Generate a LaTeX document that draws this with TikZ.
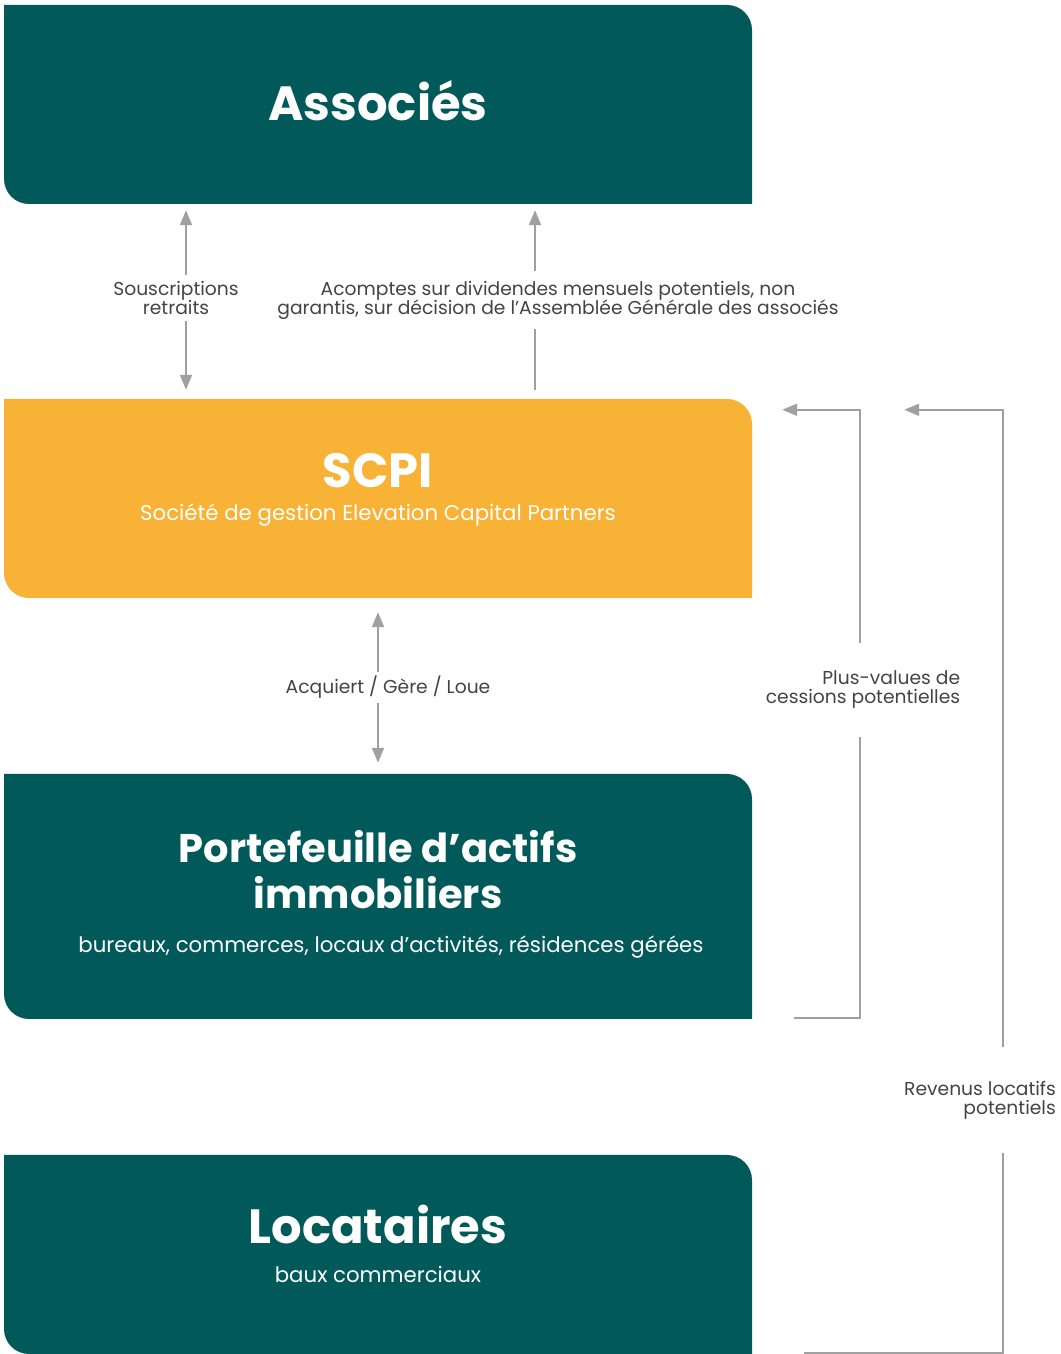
\documentclass[tikz,border=0pt]{standalone}
\usepackage{fontspec}
\setmainfont{Poppins}
\usetikzlibrary{arrows.meta}

\definecolor{pine}{HTML}{02595A}
\definecolor{amber}{HTML}{F8B236}
\definecolor{flowgray}{HTML}{A0A0A0}
\definecolor{labelgray}{HTML}{444444}

\newcommand\lblfont{\fontsize{18.7}{19}\selectfont\setlength{\lineskiplimit}{-20pt}}

\tikzset{
  panel/.style={minimum width=748pt, minimum height=199pt, inner sep=0pt, fill=white,
    path picture={\fill[#1] (path picture bounding box.north west)
      -- ([xshift=-25pt]path picture bounding box.north east)
      arc[start angle=90, end angle=0, radius=25pt]
      -- (path picture bounding box.south east)
      -- ([xshift=25pt]path picture bounding box.south west)
      arc[start angle=270, end angle=180, radius=25pt] -- cycle;}},
  ttl/.style={text=white, anchor=base, inner sep=0pt, font=\fontsize{48}{48}\selectfont\bfseries},
  sub/.style={text=white, anchor=base, inner sep=0pt, font=\fontsize{21.3}{24}\selectfont},
  flow/.style={draw=flowgray, line width=2pt, >={Triangle[length=15pt,width=12pt]}},
  lbl/.style={fill=white, text=labelgray, align=center, inner xsep=2pt, font=\lblfont}
}

\begin{document}
\begin{tikzpicture}[x=1pt, y=1pt]
    \useasboundingbox (0,0) rectangle (1060,1354);

    % Boxes
    \node[panel=pine] (assoc) at (378,1249.5) {};
    \node[ttl] (assoc-t) at ([yshift=-16.5pt]assoc.center) {Associés};

    \node[panel=amber] (scpi) at (378,855.5) {};
    \node[ttl] (scpi-t) at ([yshift=10.5pt]scpi.center) {SCPI};
    \node[sub] (scpi-s) at ([yshift=-22.5pt]scpi.center) {Société de gestion Elevation Capital Partners};

    \node[panel=pine, minimum height=245pt] (porte) at (378,457.5) {};
    \node[ttl, font=\fontsize{40}{40}\selectfont\bfseries] (porte-t1) at ([yshift=33.5pt]porte.center) {Portefeuille d’actifs};
    \node[ttl, font=\fontsize{40}{40}\selectfont\bfseries] (porte-t2) at ([yshift=-12.5pt]porte.center) {immobiliers};
    \node[sub] (porte-s) at ([xshift=13pt,yshift=-56.5pt]porte.center) {bureaux, commerces, locaux d’activités, résidences gérées};

    \node[panel=pine] (loca) at (378,99.5) {};
    \node[ttl] (loca-t) at ([yshift=10.5pt]loca.center) {Locataires};
    \node[sub] (loca-s) at ([yshift=-28.5pt]loca.center) {baux commerciaux};

    % Associés <-> SCPI
    \draw[flow,<->] ([xshift=-192pt,yshift=-6pt]assoc.south) -- ([xshift=-192pt,yshift=9pt]scpi.north)
        node[lbl, midway, xshift=-10pt, yshift=2pt, inner ysep=6pt] (sousc) {Souscriptions\\retraits};
    \draw[flow,->] ([xshift=157pt,yshift=9pt]scpi.north) -- ([xshift=157pt,yshift=-6pt]assoc.south)
        node[lbl, midway, xshift=23pt, inner ysep=10pt] (acomp)
        {Acomptes sur dividendes mensuels potentiels, non\\garantis, sur décision de l’Assemblée Générale des associés};

    % SCPI <-> Portefeuille
    \draw[flow,<->] ([yshift=-14pt]scpi.south) -- ([yshift=11pt]porte.north)
        node[lbl, midway, xshift=10pt, inner ysep=4pt] (acq) {Acquiert / Gère / Loue};

    % Retours vers la SCPI
    \draw[flow,->] ([xshift=42pt,yshift=1pt]porte.south east) -- ++(66pt,0)
        |- ([xshift=30pt,yshift=-11pt]scpi.north east);
    \node[lbl, align=right, inner ysep=28pt] (plusv) at (863,664) {Plus-values de\\cessions potentielles};
    \draw[flow,->] ([xshift=52pt,yshift=1pt]loca.south east) -- ++(199pt,0)
        |- ([xshift=152pt,yshift=-11pt]scpi.north east);
    \node[lbl, align=right, inner ysep=34pt] (reven) at (980,254) {Revenus locatifs\\potentiels};
\end{tikzpicture}
\end{document}
